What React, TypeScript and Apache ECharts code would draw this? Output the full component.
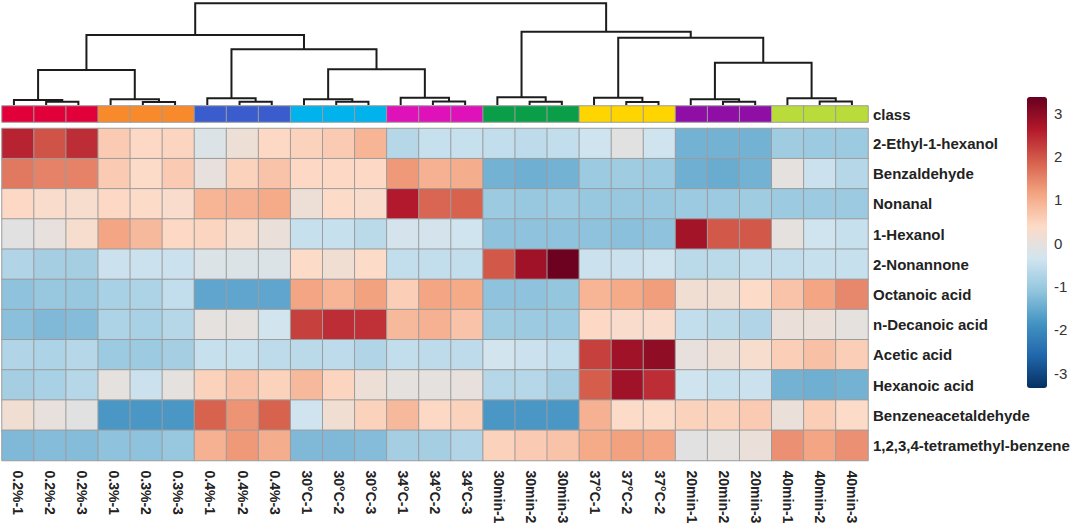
import React, { useEffect, useRef } from "react";
import * as echarts from "echarts";

const samples = [
  "0.2%-1", "0.2%-2", "0.2%-3", "0.3%-1", "0.3%-2", "0.3%-3", "0.4%-1", "0.4%-2", "0.4%-3",
  "30°C-1", "30°C-2", "30°C-3", "34°C-1", "34°C-2", "34°C-3", "30min-1", "30min-2", "30min-3",
  "37°C-1", "37°C-2", "37°C-2", "20min-1", "20min-2", "20min-3", "40min-1", "40min-2", "40min-3",
];
const classNames = ["0.2%", "0.3%", "0.4%", "30°C", "34°C", "30min", "37°C", "20min", "40min"];
const classColors = ["#e2003b", "#f88a2b", "#3b5ccc", "#00b3ec", "#de12b8", "#0a9e48", "#ffd500", "#8f0fa6", "#badc3a"];
const sampleClass = [0, 0, 0, 1, 1, 1, 2, 2, 2, 3, 3, 3, 4, 4, 4, 5, 5, 5, 6, 6, 6, 7, 7, 7, 8, 8, 8];

const compounds = [
  "2-Ethyl-1-hexanol", "Benzaldehyde", "Nonanal", "1-Hexanol", "2-Nonannone", "Octanoic acid",
  "n-Decanoic acid", "Acetic acid", "Hexanoic acid", "Benzeneacetaldehyde", "1,2,3,4-tetramethyl-benzene",
];

const ethylHexanol = [2.5, 2.0, 2.4, 0.6, 0.4, 0.45, -0.2, 0.1, 0.4, 0.5, 0.6, 0.9, -0.7, -0.5, -0.5, -0.55, -0.6, -0.55, -0.4, -0.1, -0.4, -1.4, -1.4, -1.4, -0.95, -1.0, -1.0];
const benzaldehyde = [1.6, 1.5, 1.5, 0.6, 0.35, 0.6, 0.0, 0.5, 0.7, 0.4, 0.4, 0.4, 1.25, 0.95, 1.0, -1.4, -1.45, -1.4, -1.0, -0.95, -1.0, -1.45, -1.5, -1.4, -0.05, -0.45, -0.7];
const nonanal = [0.4, 0.3, 0.25, 0.4, 0.35, 0.3, 0.9, 0.95, 1.05, 0.1, 0.35, 0.3, 2.6, 1.8, 1.85, -1.0, -1.05, -1.0, -1.05, -1.05, -1.05, -1.0, -1.0, -0.95, -1.0, -1.0, -1.0];
const hexanol = [-0.1, 0.0, 0.25, 1.1, 0.85, 0.4, 0.45, 0.25, 0.05, -0.5, -0.5, -0.65, -0.3, -0.3, -0.4, -1.15, -1.15, -1.15, -1.15, -1.2, -1.15, 2.75, 1.95, 1.95, -0.05, -0.4, -0.5];
const nonannone = [-0.75, -0.9, -0.9, -0.45, -0.45, -0.45, -0.2, -0.2, -0.2, 0.35, 0.15, 0.35, -0.55, -0.55, -0.55, 1.95, 2.8, 3.3, -0.45, -0.45, -0.4, -0.65, -0.65, -0.55, -0.55, -0.5, -0.5];
const octanoicAcid = [-1.15, -1.05, -1.05, -0.85, -0.8, -0.55, -1.6, -1.6, -1.6, 1.1, 0.9, 1.15, 0.55, 1.1, 1.05, -1.15, -1.15, -1.1, 0.9, 1.05, 1.2, 0.15, 0.15, 0.35, 0.7, 1.1, 1.45];
const decanoicAcid = [-1.2, -1.3, -1.25, -0.8, -0.85, -0.7, -0.05, -0.05, -0.35, 2.2, 2.4, 2.35, 0.85, 0.95, 0.7, -0.95, -1.0, -1.0, 0.4, 0.3, 0.3, -0.55, -0.65, -0.75, 0.05, 0.05, -0.05];
const aceticAcid = [-0.75, -0.8, -0.7, -1.0, -1.0, -0.9, -0.5, -0.5, -0.6, -0.65, -0.6, -0.75, -0.55, -0.6, -0.6, -0.35, -0.45, -0.55, 2.2, 2.8, 2.95, 0.0, 0.1, 0.25, 0.55, 0.75, 0.55];
const hexanoicAcid = [-0.9, -0.85, -0.7, -0.05, -0.45, -0.05, 0.5, 0.7, 0.5, 0.85, 0.45, 0.1, -0.05, -0.05, 0.0, -0.7, -0.7, -0.9, 1.9, 2.8, 2.4, -0.4, -0.5, -0.45, -1.4, -1.45, -1.4];
const benzeneacetaldehyde = [0.15, 0.0, -0.1, -1.8, -1.8, -1.8, 1.85, 1.3, 1.85, -0.4, 0.15, 0.5, 0.85, 0.4, 0.5, -1.8, -1.8, -1.8, 0.95, 0.35, 0.35, 0.5, 0.5, 0.6, 0.05, 0.55, 0.35];
const tetramethylBenzene = [-1.3, -1.25, -1.25, -1.15, -1.15, -1.05, 0.95, 1.25, 1.0, -1.3, -1.3, -1.25, -0.9, -0.9, -0.75, 0.5, 0.6, 0.7, 1.05, 1.15, 1.1, -0.1, -0.05, 0.05, 1.35, 1.1, 1.35];

const rows = [
  ethylHexanol, benzaldehyde, nonanal, hexanol, nonannone, octanoicAcid,
  decanoicAcid, aceticAcid, hexanoicAcid, benzeneacetaldehyde, tetramethylBenzene,
];

const colorTicks = [-3, -2, -1, 0, 1, 2, 3];
const rdBu = ["#053061", "#2166ac", "#4393c3", "#92c5de", "#d1e5f0", "#fddbc7", "#f4a582", "#d6604d", "#b2182b", "#67001f"];

// dendrogram: within each class group, leaf a joins the merged pair (b, c)
const subHeights = [3.2, 3.0, 3.3, 3.1, 3.4, 3.2, 3.0, 3.3, 3.4];
const groupHeights = [4.9, 5.6, 6.6, 5.6, 7.2, 7.6, 7.2, 5.6, 6.6];
type TreeNode = number | [TreeNode, TreeNode, number];
const upperTree: TreeNode = [
  [[0, 1, 34.4], [2, [3, 4, 35.1], 54.8], 68.8],
  [5, [6, [7, 8, 41.6], 66.2], 72.1],
  100,
];

function buildSegments(): number[][] {
  const segs: number[][] = [];
  const groupPos = classNames.map((_, g) => {
    const a = 3 * g, b = 3 * g + 1, c = 3 * g + 2;
    const subX = (b + c) / 2;
    segs.push([b, 0, c, 0, subHeights[g]]);
    segs.push([a, 0, subX, subHeights[g], groupHeights[g]]);
    return [(a + subX) / 2, groupHeights[g]];
  });
  const walk = (n: TreeNode): number[] => {
    if (typeof n === "number") return groupPos[n];
    const l = walk(n[0]);
    const r = walk(n[1]);
    segs.push([l[0], l[1], r[0], r[1], n[2]]);
    return [(l[0] + r[0]) / 2, n[2]];
  };
  walk(upperTree);
  return segs;
}

const FONT = "'Liberation Sans', Arial, sans-serif";

export default function App() {
  const ref = useRef<HTMLDivElement>(null);
  useEffect(() => {
    if (!ref.current) return;
    const chart = echarts.init(ref.current, null, { renderer: "svg" });
    const heatData: number[][] = [];
    rows.forEach((vals, r) => vals.forEach((v, c) => heatData.push([c, r, v])));
    const classData = sampleClass.map((k, i) => [i, 0, k]);
    const segs = buildSegments();

    chart.setOption({
      animation: false,
      backgroundColor: "#ffffff",
      textStyle: { fontFamily: FONT },
      grid: [
        { left: 2, top: 128.5, width: 866, height: 332 },
        { left: 2, top: 106, width: 866, height: 16 },
        { left: 2, top: 3.3, width: 866, height: 101.7 },
        { left: 1046, top: 113, width: 1, height: 260 },
      ],
      xAxis: [
        {
          type: "category", gridIndex: 0, data: samples,
          axisLine: { show: false }, axisTick: { show: false }, splitLine: { show: false },
          axisLabel: { rotate: -90, margin: 10, fontSize: 14, fontWeight: "bold", color: "#222", fontFamily: FONT, interval: 0 },
        },
        { type: "category", gridIndex: 1, data: samples, show: false },
        { type: "value", gridIndex: 2, min: -0.37, max: 26.5, show: false },
        { type: "value", gridIndex: 3, show: false },
      ],
      yAxis: [
        {
          type: "category", gridIndex: 0, data: compounds, inverse: true, position: "right",
          axisLine: { show: false }, axisTick: { show: false }, splitLine: { show: false },
          axisLabel: { margin: 5, fontSize: 15, fontWeight: "bold", color: "#222", fontFamily: FONT },
        },
        {
          type: "category", gridIndex: 1, data: ["class"], position: "right",
          axisLine: { show: false }, axisTick: { show: false },
          axisLabel: { margin: 5, fontSize: 15, fontWeight: "bold", color: "#222", fontFamily: FONT },
        },
        { type: "value", gridIndex: 2, min: 0, max: 100, show: false },
        {
          type: "value", gridIndex: 3, min: -3, max: 3, interval: 1, position: "right",
          axisLine: { show: false }, axisTick: { show: false }, splitLine: { show: false },
          axisLabel: { margin: 7, fontSize: 15, color: "#333", fontFamily: FONT },
        },
      ],
      visualMap: [
        {
          type: "continuous", seriesIndex: 0, min: -3.36, max: 3.36,
          left: 1027, top: 97, itemWidth: 20, itemHeight: 291, padding: 0,
          calculable: false, hoverLink: false, realtime: false,
          inRange: { color: rdBu },
        },
        {
          type: "piecewise", seriesIndex: 1, show: false,
          pieces: classColors.map((c, i) => ({ value: i, color: c, label: classNames[i] })),
        },
      ],
      series: [
        {
          type: "heatmap", xAxisIndex: 0, yAxisIndex: 0, data: heatData,
          itemStyle: { borderColor: "#9c9c9c", borderWidth: 1 },
          emphasis: { disabled: true },
        },
        {
          type: "heatmap", xAxisIndex: 1, yAxisIndex: 1, data: classData,
          itemStyle: { borderColor: "#9c9c9c", borderWidth: 1 },
          emphasis: { disabled: true },
        },
        {
          type: "custom", xAxisIndex: 2, yAxisIndex: 2, data: segs, clip: false,
          encode: { x: [0, 2], y: [1, 3, 4] },
          renderItem: (_p: any, api: any) => {
            const x1 = api.value(0), y1 = api.value(1), x2 = api.value(2), y2 = api.value(3), h = api.value(4);
            return {
              type: "polyline",
              shape: { points: [api.coord([x1, y1]), api.coord([x1, h]), api.coord([x2, h]), api.coord([x2, y2])] },
              style: { stroke: "#1c1c1c", lineWidth: 2, fill: "none" },
            };
          },
        },
        {
          type: "scatter", xAxisIndex: 3, yAxisIndex: 3, data: colorTicks.map((t) => [0, t]),
          symbolSize: 0, silent: true,
        },
      ],
    });
    return () => chart.dispose();
  }, []);
  return <div ref={ref} style={{ position: "fixed", left: 0, top: 0, width: 1080, height: 532, background: "#fff" }} />;
}
